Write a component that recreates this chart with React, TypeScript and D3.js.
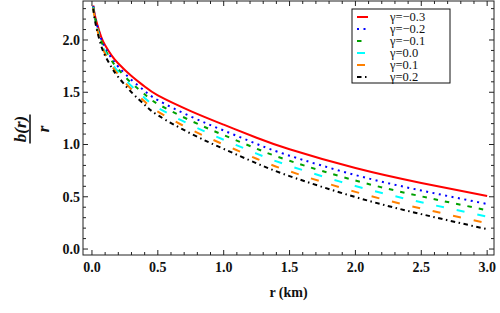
import React from 'react';
import * as d3 from 'd3';

// r values (km) at which the curves were read
const rValues = [0.01, 0.02, 0.04, 0.07, 0.1, 0.15, 0.2, 0.3, 0.4, 0.5, 0.75, 1.0, 1.25, 1.5, 2.0, 2.5, 3.0];

// b(r)/r for each gamma
const gammaM03 = [2.33, 2.25, 2.15, 2.03, 1.95, 1.85, 1.775, 1.655, 1.555, 1.47, 1.32, 1.19, 1.065, 0.955, 0.775, 0.632, 0.507];
const gammaM02 = [2.323, 2.239, 2.134, 2.01, 1.926, 1.822, 1.744, 1.618, 1.513, 1.424, 1.268, 1.134, 1.006, 0.893, 0.708, 0.56, 0.431];
const gammaM01 = [2.317, 2.231, 2.122, 1.993, 1.907, 1.801, 1.719, 1.588, 1.48, 1.388, 1.228, 1.09, 0.96, 0.844, 0.655, 0.504, 0.371];
const gamma00 = [2.311, 2.222, 2.11, 1.977, 1.888, 1.779, 1.694, 1.559, 1.446, 1.352, 1.187, 1.046, 0.913, 0.796, 0.603, 0.447, 0.31];
const gamma01 = [2.305, 2.213, 2.097, 1.96, 1.868, 1.756, 1.668, 1.528, 1.411, 1.314, 1.144, 1.0, 0.864, 0.744, 0.547, 0.388, 0.247];
const gamma02 = [2.3, 2.205, 2.085, 1.945, 1.85, 1.735, 1.645, 1.5, 1.38, 1.28, 1.105, 0.958, 0.82, 0.698, 0.497, 0.334, 0.19];

const legendLabels = ['γ=−0.3', 'γ=−0.2', 'γ=−0.1', 'γ=0.0', 'γ=0.1', 'γ=0.2'];
const xTickLabels = ['0.0', '0.5', '1.0', '1.5', '2.0', '2.5', '3.0'];
const yTickLabels = ['0.0', '0.5', '1.0', '1.5', '2.0'];

const series = [
  { values: gammaM03, color: '#ff0000', dash: null },
  { values: gammaM02, color: '#0000ff', dash: '2,4.5' },
  { values: gammaM01, color: '#00a000', dash: '4.5,7' },
  { values: gamma00, color: '#00ffff', dash: '8,13' },
  { values: gamma01, color: '#ff8000', dash: '8,13' },
  { values: gamma02, color: '#000000', dash: '4.5,3.5,1.5,3.5' },
];

const W = 500;
const H = 313;
const left = 83, right = 494, top = 1, bottom = 255;
const serif = '"Liberation Serif", "Times New Roman", serif';

const App: React.FC = () => {
  const x = d3.scaleLinear().domain([-0.068, 3.052]).range([left, right]);
  const y = d3.scaleLinear().domain([-0.057, 2.373]).range([bottom, top]);

  const line = d3.line<[number, number]>()
    .x(d => x(d[0]))
    .y(d => y(d[1]))
    .curve(d3.curveNatural);

  const xMinor = d3.range(0, 31).map(i => i / 10);
  const yMinor = d3.range(0, 24).map(i => i / 10);
  const isMajor = (v: number) => Math.abs(v * 2 - Math.round(v * 2)) < 1e-6;

  return (
    <svg width={W} height={H} style={{ position: 'absolute', left: 0, top: 0, background: '#fff' }}>
      <defs>
        <clipPath id="plot-clip">
          <rect x={left} y={top} width={right - left} height={bottom - top} />
        </clipPath>
      </defs>

      {/* curves */}
      <g clipPath="url(#plot-clip)">
        {series.map((s, i) => (
          <path
            key={i}
            d={line(rValues.map((r, j) => [r, s.values[j]] as [number, number])) || ''}
            fill="none"
            stroke={s.color}
            strokeWidth={2}
            strokeDasharray={s.dash || undefined}
          />
        ))}
      </g>

      {/* frame */}
      <rect x={left} y={top} width={right - left} height={bottom - top} fill="none" stroke="#222" strokeWidth={1} />

      {/* x ticks bottom + top */}
      {xMinor.map(v => {
        const len = isMajor(v) ? 5 : 3;
        return (
          <g key={'xt' + v} stroke="#222" strokeWidth={1}>
            <line x1={x(v)} x2={x(v)} y1={bottom} y2={bottom - len} />
            <line x1={x(v)} x2={x(v)} y1={top} y2={top + len} />
          </g>
        );
      })}
      {/* y ticks left + right */}
      {yMinor.map(v => {
        const len = isMajor(v) ? 5 : 3;
        return (
          <g key={'yt' + v} stroke="#222" strokeWidth={1}>
            <line x1={left} x2={left + len} y1={y(v)} y2={y(v)} />
            <line x1={right} x2={right - len} y1={y(v)} y2={y(v)} />
          </g>
        );
      })}

      {/* tick labels */}
      {xTickLabels.map(t => (
        <text key={'xl' + t} x={x(+t)} y={272} textAnchor="middle" fontFamily={serif} fontWeight="bold" fontSize={14} fill="#111">
          {t}
        </text>
      ))}
      {yTickLabels.map(t => (
        <text key={'yl' + t} x={80} y={y(+t)} dy="0.35em" textAnchor="end" fontFamily={serif} fontWeight="bold" fontSize={14} fill="#111">
          {t}
        </text>
      ))}

      {/* axis labels */}
      <text x={(left + right) / 2} y={297} textAnchor="middle" fontFamily={serif} fontWeight="bold" fontSize={14} fill="#111">
        r (km)
      </text>
      <g transform={`translate(30, ${(top + bottom) / 2 + 1}) rotate(-90)`}>
        <text x={0} y={-4} textAnchor="middle" fontFamily={serif} fontWeight="bold" fontStyle="italic" fontSize={17} fill="#111">
          b(r)
        </text>
        <line x1={-14.5} x2={14.5} y1={0} y2={0} stroke="#444" strokeWidth={2} />
        <text x={0} y={19} textAnchor="middle" fontFamily={serif} fontWeight="bold" fontStyle="italic" fontSize={17} fill="#111">
          r
        </text>
      </g>

      {/* legend */}
      <rect x={352} y={9} width={98} height={74} fill="#fff" stroke="#111" strokeWidth={1} />
      {series.map((s, i) => {
        const cy = 17 + i * 12;
        return (
          <g key={'lg' + i}>
            <line x1={357} x2={368} y1={cy} y2={cy} stroke={s.color} strokeWidth={2} strokeDasharray={s.dash || undefined} />
            <text x={390} y={cy + 4} fontFamily={serif} fontSize={12.5} fill="#111">
              {legendLabels[i]}
            </text>
          </g>
        );
      })}
    </svg>
  );
};

export default App;
